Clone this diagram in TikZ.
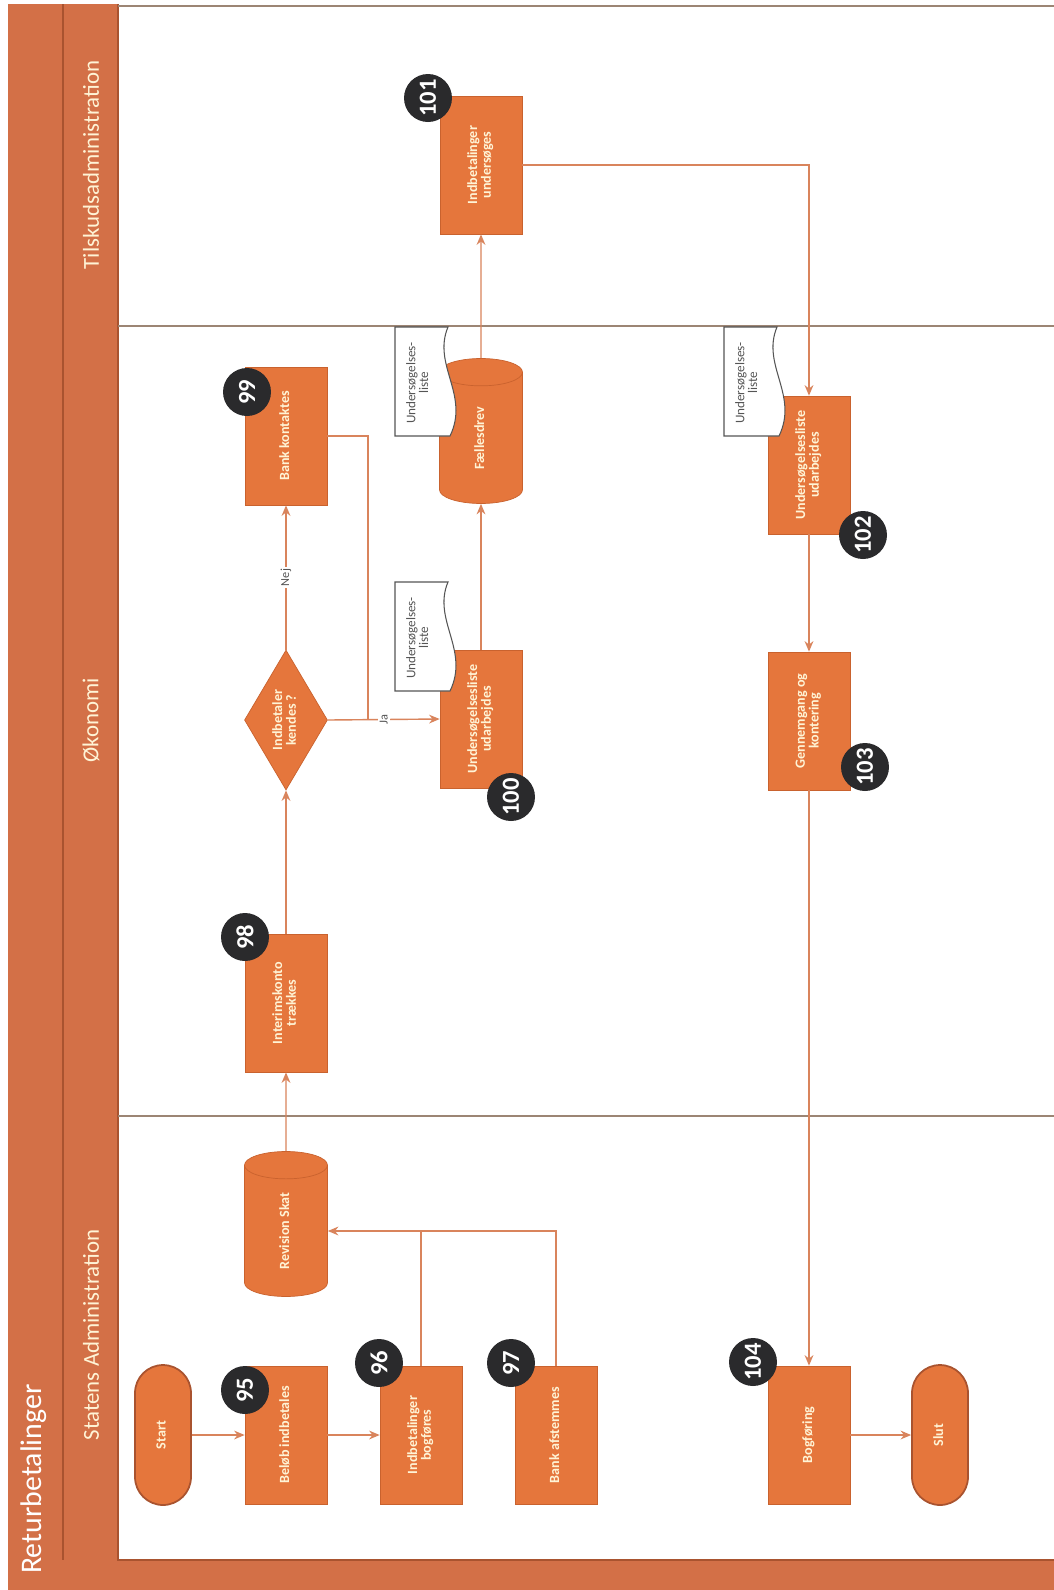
\documentclass[tikz,border=0pt]{standalone}
\usepackage{fontspec}
\usepackage{graphicx}
\setmainfont{Carlito}
\usetikzlibrary{arrows.meta,shapes.geometric}

\definecolor{boxcol}{HTML}{E5763C}
\definecolor{boxedge}{HTML}{C9622E}
\definecolor{boxtext}{HTML}{FFF4D6}
\definecolor{bandcol}{HTML}{D37047}
\definecolor{banddark}{HTML}{A9532F}
\definecolor{flowcol}{HTML}{D9845C}
\definecolor{lanecol}{HTML}{9C8574}
\definecolor{badgecol}{HTML}{2A2A2C}
\definecolor{doccol}{HTML}{555555}

\renewcommand{\arraystretch}{0.85}
\newcommand{\vlabel}[1]{\rotatebox{90}{\begin{tabular}{@{}c@{}}#1\end{tabular}}}

\tikzset{
  task/.style={draw=boxedge, fill=boxcol, text=boxtext, inner sep=0pt,
    minimum width=1.64cm, minimum height=2.76cm,
    font=\fontsize{8}{8.5}\selectfont\bfseries},
  store/.style={task, cylinder, shape border rotate=90, aspect=2,
    minimum width=1.66cm, minimum height=2.9cm},
  decision/.style={task, diamond, aspect=0.6,
    minimum width=1.66cm, minimum height=2.8cm},
  terminal/.style={task, rounded corners=0.56cm, draw=banddark, line width=1pt,
    minimum width=1.12cm, minimum height=2.8cm},
  badge/.style={circle, fill=badgecol, text=white, inner sep=0pt,
    minimum size=0.96cm, font=\fontsize{14}{14}\selectfont\bfseries},
  lanelabel/.style={text=boxtext, rotate=90, font=\fontsize{13}{13}\selectfont},
  flow/.style={draw=flowcol, line width=0.8pt},
  docpaper/.style={draw=doccol, fill=white, line width=0.6pt},
  doctext/.style={text=doccol, font=\fontsize{7.5}{8}\selectfont},
  flowlabel/.style={fill=white, text=doccol, inner sep=1pt,
    font=\fontsize{7}{7}\selectfont}
}

\begin{document}
\begin{tikzpicture}[x=0.02cm, y=-0.02cm, >={Stealth[length=6pt,width=5pt]}]
  \useasboundingbox (0,0) rectangle (1054,1590);
  \fill[white] (0,0) rectangle (1054,1590);

  % Pool frame and lanes.
  \fill[bandcol] (8,4) rectangle (118,1590);
  \fill[bandcol] (8,1560) rectangle (1054,1590);
  \draw[banddark, line width=0.6pt] (63,4) -- (63,1560);
  \draw[banddark, line width=0.8pt] (118,4) -- (118,1560) -- (1054,1560);
  \draw[lanecol, line width=0.8pt] (118,6) -- (1054,6);
  \draw[lanecol, line width=0.8pt] (118,326) -- (1054,326);
  \draw[lanecol, line width=0.8pt] (118,1116) -- (1054,1116);

  \node[text=white, rotate=90, anchor=west, font=\fontsize{17}{17}\selectfont]
    (title) at (34,1580) {Returbetalinger};
  \node[lanelabel] (laneTilsk) at (91,165) {Tilskudsadministration};
  \node[lanelabel] (laneOek) at (91,720) {Økonomi};
  \node[lanelabel] (laneStat) at (91,1335) {Statens Administration};

  % Steps.
  \node[terminal] (start) at (163,1435) {\vlabel{Start}};
  \node[task] (b95) at (286,1435) {\vlabel{Beløb indbetales}};
  \node[task] (b96) at (421,1435) {\vlabel{Indbetalinger\\bogføres}};
  \node[task] (b97) at (556,1435) {\vlabel{Bank afstemmes}};
  \node[store] (skat) at (286,1231) {\vlabel{Revision Skat}};
  \node[task] (b98) at (286,1003) {\vlabel{Interimskonto\\trækkes}};
  \node[decision] (dec) at (286,720) {\vlabel{Indbetaler\\kendes ?}};
  \node[task] (b99) at (286,436) {\vlabel{Bank kontaktes}};
  \node[task] (b100) at (481,719) {\vlabel{Undersøgelsesliste\\udarbejdes}};
  \node[store] (drev) at (481,438) {\vlabel{Fællesdrev}};
  \node[task] (b101) at (481,165) {\vlabel{Indbetalinger\\undersøges}};
  \node[task] (b102) at (809,465) {\vlabel{Undersøgelsesliste\\udarbejdes}};
  \node[task] (b103) at (809,721) {\vlabel{Gennemgang og\\kontering}};
  \node[task] (b104) at (809,1435) {\vlabel{Bogføring}};
  \node[terminal] (slut) at (940,1435) {\vlabel{Slut}};
  \coordinate (jaknee) at (368,720);

  % Connectors.
  \draw[flow, ->] (start) -- (b95);
  \draw[flow, ->] (b95) -- (b96);
  \draw[flow, ->] (b96.north) |- (skat.east);
  \draw[flow] (b97.north) |- (b96.north |- skat.east);
  \draw[flow, ->] (skat.90) -- (b98.south);
  \draw[flow, ->] (b98.north) -- (dec.south);
  \draw[flow, ->] (dec.north) -- node[flowlabel] (lblNej) {\rotatebox{90}{Nej}} (b99.south);
  \draw[flow, ->] (dec.east) -- node[flowlabel] (lblJa) {\rotatebox{90}{Ja}} (b100.west);
  \draw[flow] (b99.east) -| (jaknee);
  \draw[flow, ->] (b100.north) -- (drev.270);
  \draw[flow, ->] (drev.90) -- (b101.south);
  \draw[flow, ->] (b101.east) -| (b102.north);
  \draw[flow, ->] (b102.south) -- (b103.north);
  \draw[flow, ->] (b103.south) -- (b104.north);
  \draw[flow, ->] (b104.east) -- (slut.west);

  % Documents (Undersøgelsesliste).
  \foreach \dx/\dy/\i in {395/582/1, 395/327/2, 724/327/3} {
    \draw[docpaper] (\dx,\dy) -- (\dx+53,\dy)
      .. controls (\dx+37,\dy+38) and (\dx+75,\dy+68) .. (\dx+55,\dy+109)
      -- (\dx,\dy+109) -- cycle;
    \node[doctext] (doc\i) at (\dx+24,\dy+56) {\vlabel{Undersøgelses-\\liste}};
  }

  % Step numbers.
  \foreach \n/\x/\y in {95/245/1390, 96/379/1363, 97/511/1363, 98/245/937,
      99/247/392, 100/511/797, 101/428/98, 102/863/535, 103/865/767,
      104/753/1362} {
    \node[badge] (nr\n) at (\x,\y) {\rotatebox{90}{\n}};
  }
\end{tikzpicture}
\end{document}
